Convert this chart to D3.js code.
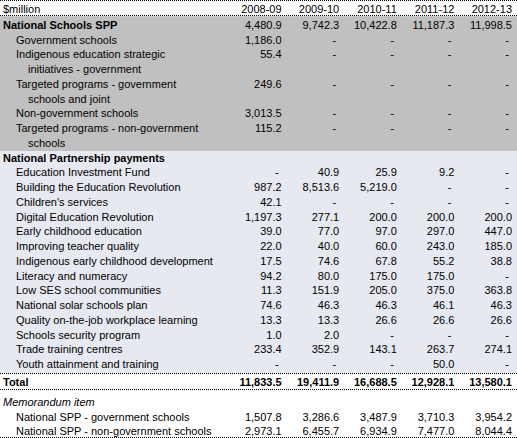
<!DOCTYPE html><html><head><meta charset="utf-8"><script src="https://cdn.jsdelivr.net/npm/d3@7"></script>
<style>body{margin:0;background:#fff}text{font-family:"Liberation Sans",Arial,sans-serif;font-size:11px;fill:#000}</style></head><body><svg id="c" width="517" height="438"></svg><script>
const years=["2008-09","2009-10","2010-11","2011-12","2012-13"];
// level: 0 bold heading, 1 item; lines = label lines
const spp=[
 {label:["National Schools SPP"],level:0,v:[4480.9,9742.3,10422.8,11187.3,11998.5]},
 {label:["Government schools"],level:1,v:[1186.0,null,null,null,null]},
 {label:["Indigenous education strategic","initiatives - government"],level:1,v:[55.4,null,null,null,null]},
 {label:["Targeted programs - government","schools and joint"],level:1,v:[249.6,null,null,null,null]},
 {label:["Non-government schools"],level:1,v:[3013.5,null,null,null,null]},
 {label:["Targeted programs - non-government","schools"],level:1,v:[115.2,null,null,null,null]}];
const npp=[
 {label:["National Partnership payments"],level:0,v:null},
 {label:["Education Investment Fund"],level:1,v:[null,40.9,25.9,9.2,null]},
 {label:["Building the Education Revolution"],level:1,v:[987.2,8513.6,5219.0,null,null]},
 {label:["Children's services"],level:1,v:[42.1,null,null,null,null]},
 {label:["Digital Education Revolution"],level:1,v:[1197.3,277.1,200.0,200.0,200.0]},
 {label:["Early childhood education"],level:1,v:[39.0,77.0,97.0,297.0,447.0]},
 {label:["Improving teacher quality"],level:1,v:[22.0,40.0,60.0,243.0,185.0]},
 {label:["Indigenous early childhood development"],level:1,v:[17.5,74.6,67.8,55.2,38.8]},
 {label:["Literacy and numeracy"],level:1,v:[94.2,80.0,175.0,175.0,null]},
 {label:["Low SES school communities"],level:1,v:[11.3,151.9,205.0,375.0,363.8]},
 {label:["National solar schools plan"],level:1,v:[74.6,46.3,46.3,46.1,46.3]},
 {label:["Quality on-the-job workplace learning"],level:1,v:[13.3,13.3,26.6,26.6,26.6]},
 {label:["Schools security program"],level:1,v:[1.0,2.0,null,null,null]},
 {label:["Trade training centres"],level:1,v:[233.4,352.9,143.1,263.7,274.1]},
 {label:["Youth attainment and training"],level:1,v:[null,null,null,50.0,null]}];
const total=[11833.5,19411.9,16688.5,12928.1,13580.1];
const memo=[
 {label:["Memorandum item"],level:2,v:null},
 {label:["National SPP - government schools"],level:1,v:[1507.8,3286.6,3487.9,3710.3,3954.2]},
 {label:["National SPP - non-government schools"],level:1,v:[2973.1,6455.7,6934.9,7477.0,8044.4]}];

const svg=d3.select("#c");
const x=d3.scaleBand().domain(years).range([227,515]);
const y=d3.scaleLinear().domain([0,23]).range([25,364]);
const ym=d3.scaleLinear().domain([0,2]).range([402,431]);
const fmt=d3.format(",.1f");
const dot=(yy)=>svg.append("line").attr("x1",0).attr("x2",517).attr("y1",yy).attr("y2",yy).attr("stroke","#000").attr("stroke-width",1).attr("stroke-dasharray","1,1");

// backgrounds
svg.append("rect").attr("x",0).attr("width",517).attr("y",y(-0.6)).attr("height",y(8.55)-y(-0.6)).attr("fill","#c0c0c0");
svg.append("rect").attr("x",0).attr("width",517).attr("y",y(8.55)).attr("height",y(23.6)-y(8.55)).attr("fill","#e6e9ef");
dot(0.5);dot(15.5);dot(373.5);dot(389.5);dot(437.5);

// header
svg.append("text").attr("x",3).attr("y",13).text("$million");
years.forEach(yr=>svg.append("text").attr("x",x(yr)+x.bandwidth()-3).attr("y",13).attr("text-anchor","end").text(yr));

function drawRows(rows,ys,start){
 let i=start;
 rows.forEach(r=>{
  r.label.forEach((l,k)=>{
   const t=svg.append("text").attr("x",r.level===1?(k?28:16):3).attr("y",ys(i+k)+4).text(l);
   if(r.level===0)t.attr("font-weight","bold");
   if(r.level===2)t.attr("font-style","italic");
  });
  if(r.v) r.v.forEach((v,j)=>svg.append("text").attr("x",x(years[j])+x.bandwidth()-(v==null?6:3)).attr("y",ys(i)+4).attr("text-anchor","end").text(v==null?"-":fmt(v)));
  i+=r.label.length;
 });
 return i;
}
let n=drawRows(spp,y,0);
drawRows(npp,y,n);
svg.append("text").attr("x",3).attr("y",386).attr("font-weight","bold").text("Total");
total.forEach((v,j)=>svg.append("text").attr("x",x(years[j])+x.bandwidth()-3).attr("y",386).attr("text-anchor","end").attr("font-weight","bold").text(fmt(v)));
drawRows(memo,ym,0);
</script></body></html>
